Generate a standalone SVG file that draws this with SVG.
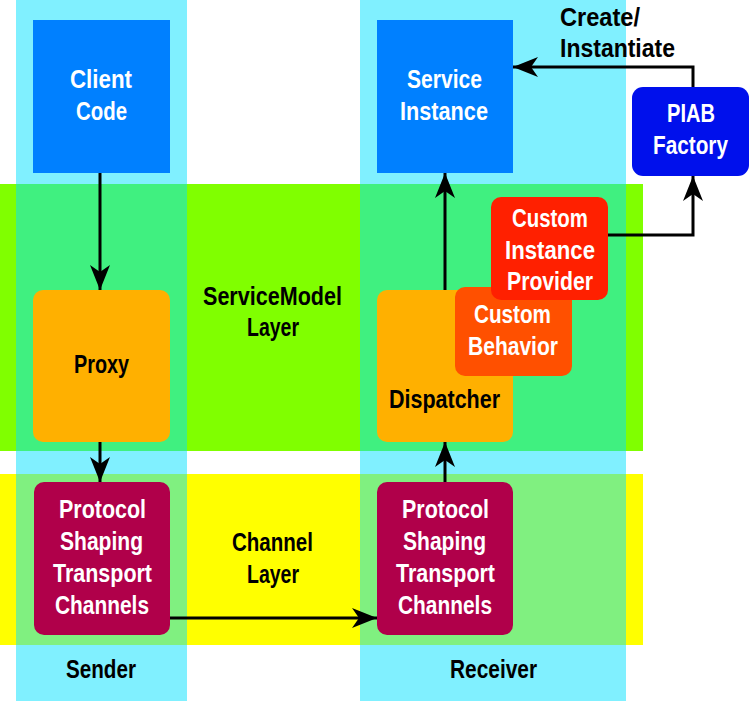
<svg xmlns="http://www.w3.org/2000/svg" width="750" height="701" viewBox="0 0 750 701">
<defs>
<style>
text{font-family:"Liberation Sans",Arial,sans-serif;font-weight:bold;font-size:25px}
.w{fill:#fff}
.k{fill:#000}
.ln{fill:none;stroke:#000;stroke-width:3}
</style>
<marker id="ah" markerUnits="userSpaceOnUse" markerWidth="26" markerHeight="22" refX="25" refY="11" orient="auto">
<path d="M0,1 L25,11 L0,21 L7,11 Z" fill="#000"/>
</marker>
</defs>
<rect width="750" height="701" fill="#fff"/>
<g id="bands">
<rect x="16" y="0" width="171" height="701" fill="#80F0FF"/>
<rect x="360" y="0" width="266" height="701" fill="#80F0FF"/>
<rect x="0" y="184" width="643" height="267" fill="#80FF00"/>
<rect x="0" y="474" width="643" height="171" fill="#FFFF00"/>
<rect x="16" y="184" width="171" height="267" fill="#40F080"/>
<rect x="360" y="184" width="266" height="267" fill="#40F080"/>
<rect x="16" y="474" width="171" height="171" fill="#80F080"/>
<rect x="360" y="474" width="266" height="171" fill="#80F080"/>
</g>
<g id="labels">
<text class="k" x="203" y="305" textLength="139" lengthAdjust="spacingAndGlyphs">ServiceModel</text>
<text class="k" x="247" y="336" textLength="52" lengthAdjust="spacingAndGlyphs">Layer</text>
<text class="k" x="232" y="551" textLength="81" lengthAdjust="spacingAndGlyphs">Channel</text>
<text class="k" x="247" y="583" textLength="52" lengthAdjust="spacingAndGlyphs">Layer</text>
<text class="k" x="66" y="678" textLength="70" lengthAdjust="spacingAndGlyphs">Sender</text>
<text class="k" x="450" y="678" textLength="87" lengthAdjust="spacingAndGlyphs">Receiver</text>
<text class="k" x="560" y="26" textLength="80" lengthAdjust="spacingAndGlyphs">Create/</text>
<text class="k" x="560" y="57" textLength="115" lengthAdjust="spacingAndGlyphs">Instantiate</text>
</g>
<g id="client-code">
<rect x="33" y="20" width="137" height="153" fill="#0080FF"/>
<text class="w" x="70" y="88" textLength="62" lengthAdjust="spacingAndGlyphs">Client</text>
<text class="w" x="76" y="120" textLength="51" lengthAdjust="spacingAndGlyphs">Code</text>
</g>
<g id="service-instance">
<rect x="377" y="20" width="136" height="153" fill="#0080FF"/>
<text class="w" x="407" y="88" textLength="75" lengthAdjust="spacingAndGlyphs">Service</text>
<text class="w" x="400" y="120" textLength="88" lengthAdjust="spacingAndGlyphs">Instance</text>
</g>
<g id="piab-factory">
<rect x="632" y="87" width="117" height="89" rx="11" fill="#0010EC"/>
<text class="w" x="667" y="122" textLength="48" lengthAdjust="spacingAndGlyphs">PIAB</text>
<text class="w" x="653" y="154" textLength="75" lengthAdjust="spacingAndGlyphs">Factory</text>
</g>
<g id="proxy">
<rect x="33" y="290" width="137" height="152" rx="10" fill="#FFB000"/>
<text class="k" x="74" y="373" textLength="55" lengthAdjust="spacingAndGlyphs">Proxy</text>
</g>
<g id="dispatcher">
<rect x="377" y="290" width="136" height="152" rx="10" fill="#FFB000"/>
<text class="k" x="389" y="408" textLength="111" lengthAdjust="spacingAndGlyphs">Dispatcher</text>
</g>
<g id="custom-behavior">
<rect x="455" y="287" width="117" height="89" rx="10" fill="#FF5000"/>
<text class="w" x="474" y="323" textLength="77" lengthAdjust="spacingAndGlyphs">Custom</text>
<text class="w" x="468" y="355" textLength="90" lengthAdjust="spacingAndGlyphs">Behavior</text>
</g>
<g id="custom-instance-provider">
<rect x="491" y="197" width="117" height="103" rx="10" fill="#FF2000"/>
<text class="w" x="512" y="227" textLength="76" lengthAdjust="spacingAndGlyphs">Custom</text>
<text class="w" x="505" y="259" textLength="90" lengthAdjust="spacingAndGlyphs">Instance</text>
<text class="w" x="507" y="290" textLength="86" lengthAdjust="spacingAndGlyphs">Provider</text>
</g>
<g id="sender-channels">
<rect x="34" y="482" width="136" height="153" rx="10" fill="#B0004A"/>
<text class="w" x="59" y="518" textLength="87" lengthAdjust="spacingAndGlyphs">Protocol</text>
<text class="w" x="60" y="550" textLength="83" lengthAdjust="spacingAndGlyphs">Shaping</text>
<text class="w" x="53" y="582" textLength="99" lengthAdjust="spacingAndGlyphs">Transport</text>
<text class="w" x="55" y="614" textLength="94" lengthAdjust="spacingAndGlyphs">Channels</text>
</g>
<g id="receiver-channels">
<rect x="377" y="482" width="136" height="153" rx="10" fill="#B0004A"/>
<text class="w" x="402" y="518" textLength="87" lengthAdjust="spacingAndGlyphs">Protocol</text>
<text class="w" x="403" y="550" textLength="83" lengthAdjust="spacingAndGlyphs">Shaping</text>
<text class="w" x="396" y="582" textLength="99" lengthAdjust="spacingAndGlyphs">Transport</text>
<text class="w" x="398" y="614" textLength="94" lengthAdjust="spacingAndGlyphs">Channels</text>
</g>
<g id="connectors">
<line class="ln" x1="100" y1="173" x2="100" y2="290" marker-end="url(#ah)"/>
<line class="ln" x1="100" y1="442" x2="100" y2="482" marker-end="url(#ah)"/>
<line class="ln" x1="170" y1="618" x2="377" y2="618" marker-end="url(#ah)"/>
<line class="ln" x1="445" y1="482" x2="445" y2="442" marker-end="url(#ah)"/>
<line class="ln" x1="445" y1="290" x2="445" y2="173" marker-end="url(#ah)"/>
<polyline class="ln" points="693,87 693,67 513,67" marker-end="url(#ah)"/>
<polyline class="ln" points="608,235 693,235 693,176" marker-end="url(#ah)"/>
</g>
</svg>
